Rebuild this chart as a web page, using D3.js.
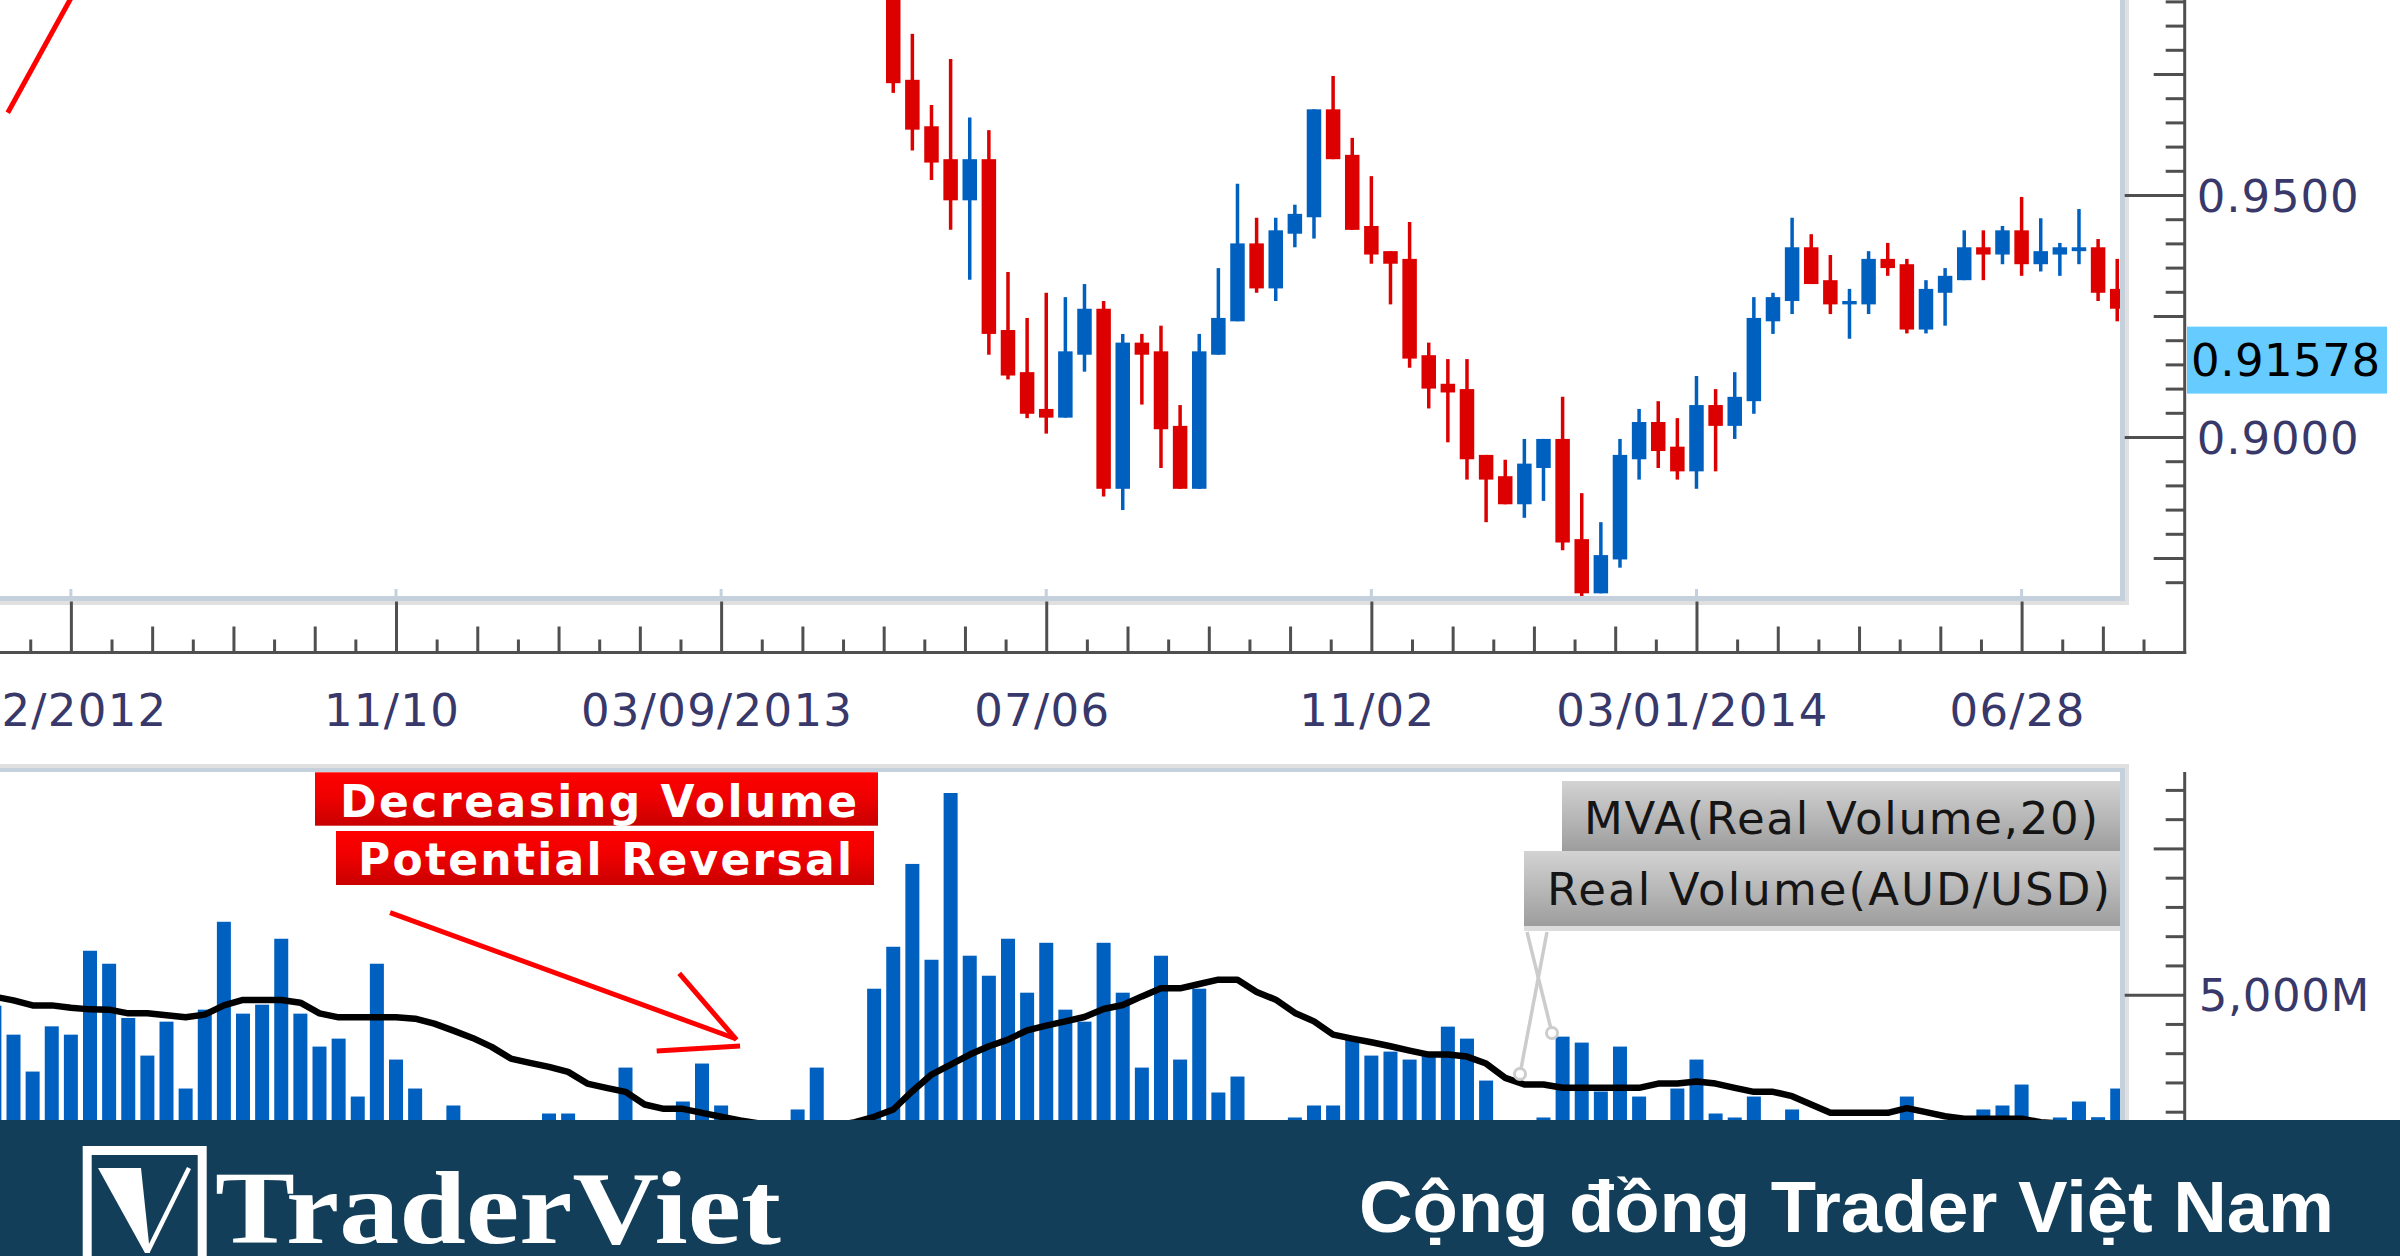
<!DOCTYPE html>
<html><head><meta charset="utf-8">
<script src="https://cdn.jsdelivr.net/npm/d3@7"></script>
<style>html,body{margin:0;padding:0;background:#fff;overflow:hidden}</style>
</head><body>
<svg id="c" width="2400" height="1256" xmlns="http://www.w3.org/2000/svg"></svg>
<script>
// ---------- DATA ----------
const DAY = 86400000;
const candleStart = Date.UTC(2013, 4, 11);   // first visible weekly candle
const volumeStart = Date.UTC(2012, 5, 16);   // first visible volume bar
const candleOpen  = [0.9985,0.9738,0.9642,0.9574,0.9489,0.9574,0.9221,0.9134,0.9058,0.9040,0.9170,0.9265,0.8893,0.9195,0.9177,0.9023,0.8893,0.9170,0.9239,0.9400,0.9307,0.9420,0.9454,0.9677,0.9583,0.9436,0.9384,0.9368,0.9169,0.9110,0.9099,0.8963,0.8919,0.8861,0.8936,0.8996,0.8789,0.8677,0.8747,0.8954,0.9031,0.8980,0.8929,0.9066,0.9023,0.9074,0.9239,0.9281,0.9392,0.9324,0.9274,0.9274,0.9368,0.9357,0.9222,0.9298,0.9324,0.9392,0.9377,0.9427,0.9357,0.9377,0.9384,0.9392,0.9306];
const candleHigh  = [1.0040,0.9833,0.9686,0.9781,0.9660,0.9634,0.9341,0.9246,0.9298,0.9289,0.9316,0.9281,0.9213,0.9213,0.9230,0.9066,0.9213,0.9349,0.9523,0.9453,0.9453,0.9480,0.9677,0.9746,0.9618,0.9539,0.9384,0.9444,0.9195,0.9161,0.9161,0.8963,0.8953,0.8996,0.8996,0.9083,0.8884,0.8824,0.8996,0.9058,0.9074,0.9039,0.9126,0.9099,0.9134,0.9289,0.9298,0.9453,0.9419,0.9376,0.9306,0.9384,0.9401,0.9368,0.9324,0.9349,0.9427,0.9427,0.9436,0.9496,0.9452,0.9401,0.9471,0.9409,0.9368];
const candleLow   = [0.9711,0.9592,0.9531,0.9428,0.9325,0.9170,0.9119,0.9039,0.9007,0.9040,0.9135,0.8877,0.8849,0.9067,0.8936,0.8893,0.8893,0.9170,0.9239,0.9298,0.9281,0.9392,0.9410,0.9574,0.9428,0.9358,0.9274,0.9143,0.9059,0.8989,0.8912,0.8824,0.8861,0.8833,0.8868,0.8766,0.8669,0.8677,0.8730,0.8912,0.8936,0.8912,0.8893,0.8929,0.8996,0.9048,0.9213,0.9254,0.9316,0.9254,0.9203,0.9254,0.9333,0.9214,0.9214,0.9230,0.9324,0.9324,0.9357,0.9333,0.9342,0.9333,0.9357,0.9281,0.9239];
const candleClose = [0.9731,0.9635,0.9567,0.9489,0.9574,0.9213,0.9127,0.9048,0.9040,0.9177,0.9265,0.8893,0.9195,0.9170,0.9016,0.8893,0.9177,0.9246,0.9400,0.9307,0.9427,0.9461,0.9677,0.9574,0.9428,0.9377,0.9358,0.9162,0.9100,0.9092,0.8954,0.8912,0.8861,0.8945,0.8996,0.8782,0.8677,0.8756,0.8963,0.9031,0.8971,0.8929,0.9066,0.9023,0.9083,0.9246,0.9289,0.9392,0.9316,0.9274,0.9281,0.9368,0.9349,0.9222,0.9306,0.9333,0.9392,0.9377,0.9427,0.9357,0.9384,0.9392,0.9392,0.9298,0.9265];
const realVolume = [4812,4317,3686,4459,4317,5751,5529,4602,3959,4539,3396,4744,6246,4676,4829,5956,4676,4113,4249,3259,5529,3891,3396,2600,3106,2500,2400,2500,2400,2969,2969,2600,2500,3754,2600,2700,3174,3823,3106,2500,2400,2600,3038,3754,2700,2800,5102,5819,7235,5597,8447,5666,5324,5956,5034,5887,4744,4539,5887,5034,3754,5666,3891,5102,3328,3601,2700,2600,2901,3106,3106,4249,3959,4027,3891,3959,4454,4249,3532,2700,2800,2901,4283,4181,3345,4113,3259,2800,3396,3891,2969,2901,3259,2700,3038,2600,2500,2600,2700,2500,3259,2800,2600,2700,3038,3106,3464,2700,2901,3174,2906,3396];
const mva20 = [4966,4903,4817,4817,4778,4749,4744,4681,4681,4650,4613,4659,4817,4910,4910,4910,4863,4681,4613,4613,4613,4613,4590,4505,4386,4261,4108,3908,3834,3766,3681,3481,3408,3340,3123,3049,3049,2981,2913,2850,2800,2760,2740,2740,2760,2820,2913,3038,3350,3635,3805,3976,4118,4232,4391,4471,4544,4619,4756,4824,4971,5108,5108,5183,5256,5256,5046,4915,4688,4544,4317,4249,4186,4118,4044,3976,3976,3942,3823,3578,3464,3464,3408,3408,3408,3408,3408,3481,3481,3515,3481,3408,3340,3340,3265,3123,2981,2981,2981,2981,3060,2992,2923,2879,2879,2879,2879,2820,2800,2790,2790,2800];
const majorDates = [Date.UTC(2012,6,14),Date.UTC(2012,10,10),Date.UTC(2013,2,9),Date.UTC(2013,6,6),Date.UTC(2013,10,2),Date.UTC(2014,2,1),Date.UTC(2014,5,28)];
const xLabels = ["2/2012","11/10","03/09/2013","07/06","11/02","03/01/2014","06/28"];
const priceTicks = d3.range(870, 991, 5).map(d => d / 1000);
const volumeTicks = d3.range(3000, 8501, 500);
const lastPrice = 0.91578;
const annotationTitles = ["Decreasing Volume", "Potential Reversal"];
const legendTitles = ["MVA(Real Volume,20)", "Real Volume(AUD/USD)"];
// annotation lines in [week offset from 11/10/2012, value]
const trendLine = [[-20.30, 0.9670], [-16.91, 0.9913]];
const arrowLines = [[[-0.31, 6401], [17.73, 4251]], [[14.81, 5366], [17.81, 4226]], [[13.63, 4038], [17.99, 4123]]];

// ---------- SETUP ----------
const RED = "#dd0000", BLUE = "#0060c0", AX = "#4f4f4f", LBL = "#38386a";
const svg = d3.select("#c");
svg.append("rect").attr("width", 2400).attr("height", 1256).attr("fill", "#fff");
const defs = svg.append("defs");
defs.append("clipPath").attr("id", "clipP").append("rect").attr("x", -60).attr("y", -60).attr("width", 2180).attr("height", 656);
defs.append("clipPath").attr("id", "clipV").append("rect").attr("x", -60).attr("y", 772).attr("width", 2180).attr("height", 400);
const gr1 = defs.append("linearGradient").attr("id", "redG").attr("x1", 0).attr("y1", 0).attr("x2", 0).attr("y2", 1);
gr1.append("stop").attr("offset", 0).attr("stop-color", "#ff0000");
gr1.append("stop").attr("offset", 0.45).attr("stop-color", "#f00000");
gr1.append("stop").attr("offset", 1).attr("stop-color", "#c80000");
const gr2 = defs.append("linearGradient").attr("id", "grayG").attr("x1", 0).attr("y1", 0).attr("x2", 0).attr("y2", 1);
gr2.append("stop").attr("offset", 0).attr("stop-color", "#d3d3d3");
gr2.append("stop").attr("offset", 1).attr("stop-color", "#9d9d9d");

const x = d3.scaleUtc().domain([new Date(Date.UTC(2012,10,10)), new Date(Date.UTC(2014,5,28))]).range([396, 2021.6]);
const y = d3.scaleLinear().domain([0.90, 0.95]).range([437, 195]);
const v = d3.scaleLinear().domain([3000, 8500]).range([1111.7, 789.9]);
const wk = w => new Date(Date.UTC(2012,10,10) + w * 7 * DAY);

// ---------- PRICE PANEL ----------
const candles = candleOpen.map((o, i) => ({date: new Date(candleStart + i * 7 * DAY), o, h: candleHigh[i], l: candleLow[i], c: candleClose[i]}));
const gC = svg.append("g").attr("clip-path", "url(#clipP)");
gC.selectAll("line.wick").data(candles).join("line").attr("class", "wick")
  .attr("x1", d => x(d.date)).attr("x2", d => x(d.date))
  .attr("y1", d => y(d.h)).attr("y2", d => y(d.l))
  .attr("stroke", d => d.c >= d.o ? BLUE : RED).attr("stroke-width", 3.5);
gC.selectAll("rect.body").data(candles).join("rect").attr("class", "body")
  .attr("x", d => x(d.date) - 7.25).attr("width", 14.5)
  .attr("y", d => y(Math.max(d.o, d.c)))
  .attr("height", d => Math.max(3, Math.abs(y(d.o) - y(d.c))))
  .attr("fill", d => d.c >= d.o ? BLUE : RED);
gC.append("path").datum(trendLine)
  .attr("d", d3.line().x(d => x(wk(d[0]))).y(d => y(d[1])))
  .attr("stroke", "#ff0000").attr("stroke-width", 5).attr("fill", "none");

// frames of price panel
svg.append("rect").attr("x", 2125).attr("y", 0).attr("width", 4).attr("height", 605).attr("fill", "#e0e0e0");
svg.append("rect").attr("x", 0).attr("y", 601).attr("width", 2129).attr("height", 4).attr("fill", "#e0e0e0");
svg.append("rect").attr("x", 2120).attr("y", 0).attr("width", 5).attr("height", 601).attr("fill", "#c5d0dd");
svg.append("rect").attr("x", 0).attr("y", 596).attr("width", 2125).attr("height", 5).attr("fill", "#c5d0dd");
svg.selectAll("line.gtick").data(majorDates).join("line").attr("class", "gtick")
  .attr("x1", d => x(new Date(d))).attr("x2", d => x(new Date(d)))
  .attr("y1", 589).attr("y2", 597).attr("stroke", "#c5d0dd").attr("stroke-width", 3);

// x axis
const step = 17 * 7 * DAY / 8;
const xTickVals = d3.range(-1, 52).map(k => new Date(majorDates[0] + k * step));
const gx = svg.append("g").attr("transform", "translate(0,652.5)")
  .call(d3.axisBottom(x).tickValues(xTickVals).tickSize(-13)
    .tickFormat((d, i) => ((i - 1) % 8 === 0 ? xLabels[(i - 1) / 8] : "")));
gx.select(".domain").remove();
gx.selectAll(".tick line").attr("stroke", AX).attr("stroke-width", 3)
  .attr("y2", (d, i) => { const k = i - 1; return k % 8 === 0 ? -51 : (k % 2 === 0 ? -26 : -13); });
gx.selectAll(".tick text").attr("y", 73.5).attr("dy", 0).attr("dx", -4.5)
  .attr("fill", LBL).attr("font-family", "DejaVu Sans").attr("font-size", 45).style("letter-spacing", "1.3px");
gx.selectAll(".tick text").filter((d, i) => i === 1)
  .attr("text-anchor", "end").attr("dx", 167 - x(new Date(majorDates[0])));
svg.append("line").attr("x1", 0).attr("x2", 2186.2).attr("y1", 652.5).attr("y2", 652.5).attr("stroke", AX).attr("stroke-width", 3);
svg.append("line").attr("x1", 2184.7).attr("x2", 2184.7).attr("y1", 0).attr("y2", 654).attr("stroke", AX).attr("stroke-width", 3);

// price y axis
const isMajP = d => Math.round(d * 1000) % 50 === 0;
const isMedP = d => Math.round(d * 1000) % 25 === 0;
const gy = svg.append("g").attr("transform", "translate(2184.7,0)")
  .call(d3.axisRight(y).tickValues(priceTicks).tickSize(-19).tickFormat(d => isMajP(d) ? d3.format(".4f")(d) : ""));
gy.select(".domain").remove();
gy.selectAll(".tick line").attr("stroke", AX).attr("stroke-width", 3)
  .attr("x2", d => isMajP(d) ? -60 : (isMedP(d) ? -31 : -19));
gy.selectAll(".tick text").attr("x", 12).attr("dy", "0.36em")
  .attr("fill", LBL).attr("font-family", "DejaVu Sans").attr("font-size", 45).style("letter-spacing", "0.9px");

// last price label
const ly = y(lastPrice);
svg.append("rect").attr("x", 2187).attr("y", ly - 34).attr("width", 200).attr("height", 67).attr("fill", "#66ccff");
svg.append("text").attr("x", 2191).attr("y", ly + 15.5).text(d3.format(".5f")(lastPrice))
  .attr("fill", "#000").attr("font-family", "DejaVu Sans").attr("font-size", 45).style("letter-spacing", "0.5px");

// ---------- VOLUME PANEL ----------
const vols = realVolume.map((val, i) => ({date: new Date(volumeStart + i * 7 * DAY), val, m: mva20[i]}));
const gV = svg.append("g").attr("clip-path", "url(#clipV)");
gV.selectAll("rect").data(vols).join("rect")
  .attr("x", d => x(d.date) - 7).attr("width", 14)
  .attr("y", d => v(d.val)).attr("height", d => v(0) - v(d.val)).attr("fill", BLUE);
gV.append("path").datum(vols)
  .attr("d", d3.line().x(d => x(d.date)).y(d => v(d.m)))
  .attr("stroke", "#000").attr("stroke-width", 6.5).attr("fill", "none").attr("stroke-linejoin", "round");

// frames of volume panel
svg.append("rect").attr("x", 0).attr("y", 764).attr("width", 2129).attr("height", 4).attr("fill", "#e0e0e0");
svg.append("rect").attr("x", 2125).attr("y", 764).attr("width", 4).attr("height", 360).attr("fill", "#e0e0e0");
svg.append("rect").attr("x", 0).attr("y", 768).attr("width", 2125).attr("height", 4).attr("fill", "#c5d0dd");
svg.append("rect").attr("x", 2120).attr("y", 768).attr("width", 5).attr("height", 356).attr("fill", "#c5d0dd");

// volume y axis
const gvy = svg.append("g").attr("transform", "translate(2184.7,0)")
  .call(d3.axisRight(v).tickValues(volumeTicks).tickSize(-19).tickFormat(d => d % 5000 === 0 ? d3.format(",")(d) + "M" : ""));
gvy.select(".domain").remove();
gvy.selectAll(".tick line").attr("stroke", AX).attr("stroke-width", 3)
  .attr("x2", d => d % 5000 === 0 ? -60 : (d % 2500 === 0 ? -31 : -19));
gvy.selectAll(".tick text").attr("x", 14).attr("dy", "0.36em")
  .attr("fill", LBL).attr("font-family", "DejaVu Sans").attr("font-size", 45).style("letter-spacing", "0.6px");
svg.append("line").attr("x1", 2184.7).attr("x2", 2184.7).attr("y1", 772).attr("y2", 1125).attr("stroke", AX).attr("stroke-width", 3);

// annotation boxes
const ann = [{x: 315, y: 772.3, w: 563, h: 53.4, tx: 340, ty: 816.7, tl: 517},
             {x: 336, y: 831, w: 538, h: 54, tx: 358, ty: 875, tl: 494}];
ann.forEach((a, i) => {
  svg.append("rect").attr("x", a.x).attr("y", a.y).attr("width", a.w).attr("height", a.h).attr("fill", "url(#redG)");
  svg.append("text").attr("x", a.tx).attr("y", a.ty).text(annotationTitles[i])
    .attr("fill", "#fff").attr("font-family", "DejaVu Sans").attr("font-weight", "bold").attr("font-size", 44)
    .attr("textLength", a.tl).attr("lengthAdjust", "spacing");
});
// red arrow
arrowLines.forEach(seg => {
  svg.append("path").datum(seg)
    .attr("d", d3.line().x(d => x(wk(d[0]))).y(d => v(d[1])))
    .attr("stroke", "#ff0000").attr("stroke-width", 5).attr("fill", "none");
});

// legend
const leg = [{x: 1562, y: 781, w: 558, h: 70, tx: 1584, ty: 834, tl: 514},
             {x: 1524, y: 851, w: 596, h: 75, tx: 1547, ty: 905, tl: 563}];
svg.append("rect").attr("x", 1524).attr("y", 926).attr("width", 596).attr("height", 5).attr("fill", "#dcdcdc");
leg.forEach((l, i) => {
  svg.append("rect").attr("x", l.x).attr("y", l.y).attr("width", l.w).attr("height", l.h).attr("fill", "url(#grayG)");
  svg.append("text").attr("x", l.tx).attr("y", l.ty).text(legendTitles[i])
    .attr("fill", "#151515").attr("font-family", "DejaVu Sans").attr("font-size", 45)
    .attr("textLength", l.tl).attr("lengthAdjust", "spacing");
});
// legend pointers
[[1527, 932, 1552, 1033], [1547, 932, 1520, 1074]].forEach(p => {
  svg.append("line").attr("x1", p[0]).attr("y1", p[1]).attr("x2", p[2]).attr("y2", p[3]).attr("stroke", "#cccccc").attr("stroke-width", 3.5);
  svg.append("circle").attr("cx", p[2]).attr("cy", p[3]).attr("r", 5.5).attr("fill", "#fff").attr("stroke", "#cccccc").attr("stroke-width", 3);
});

// ---------- BANNER ----------
svg.append("rect").attr("x", 0).attr("y", 1120).attr("width", 2400).attr("height", 136).attr("fill", "#123e59");
svg.append("rect").attr("x", 87.2).attr("y", 1150.5).attr("width", 115).attr("height", 140)
  .attr("fill", "none").attr("stroke", "#fff").attr("stroke-width", 9);
svg.append("path").attr("d", "M98,1168 L141,1168 L150,1253 L145,1253 Z").attr("fill", "#fff");
svg.append("line").attr("x1", 189).attr("y1", 1168).attr("x2", 148).attr("y2", 1251).attr("stroke", "#fff").attr("stroke-width", 4.5);
svg.append("text").attr("x", 215).attr("y", 1243).text("TraderViet")
  .attr("fill", "#fff").attr("font-family", "Liberation Serif").attr("font-weight", "bold").attr("font-size", 103)
  .attr("textLength", 566).attr("lengthAdjust", "spacingAndGlyphs");
svg.append("text").attr("x", 1359).attr("y", 1232).text("Cộng đồng Trader Việt Nam")
  .attr("fill", "#fff").attr("font-family", "Liberation Sans").attr("font-weight", "bold").attr("font-size", 72)
  .attr("textLength", 975).attr("lengthAdjust", "spacingAndGlyphs");
</script>
</body></html>
